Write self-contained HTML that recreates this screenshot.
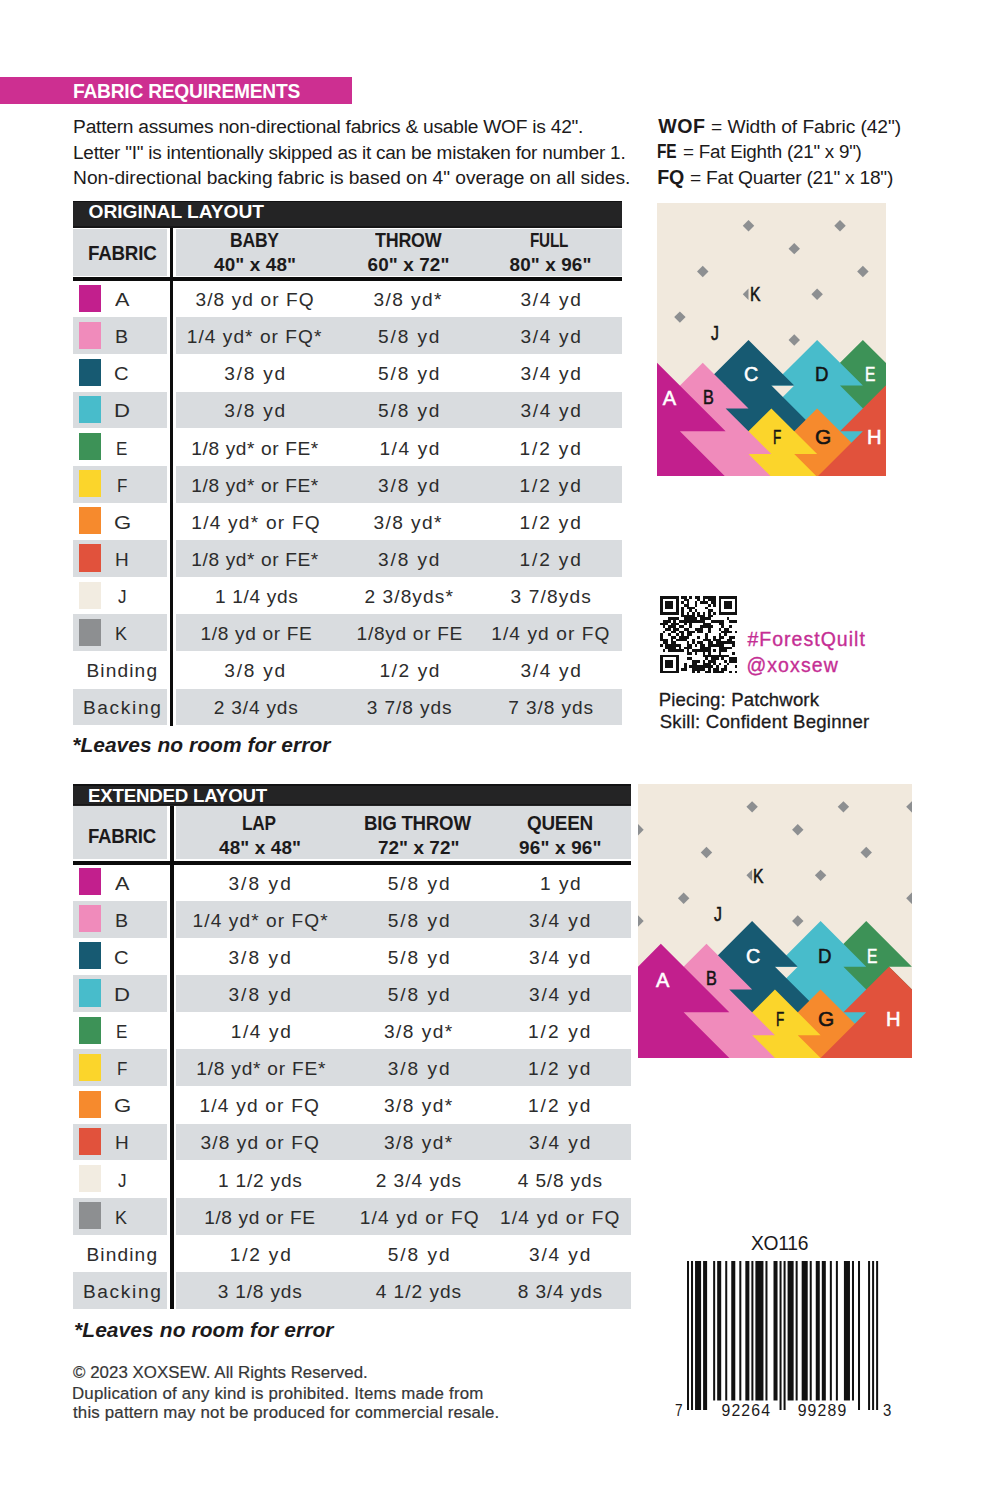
<!DOCTYPE html>
<html><head><meta charset="utf-8"><title>Fabric Requirements</title>
<style>
html,body{margin:0;padding:0;background:#fff}
body{width:986px;height:1500px;position:relative;overflow:hidden;font-family:"Liberation Sans",sans-serif}
#pg>div{position:absolute}
.t{position:absolute;white-space:pre;font-family:"Liberation Sans",sans-serif}
</style></head><body><div id="pg">
<div style="left:72.70px;top:200.70px;width:549.30px;height:27.30px;background:#242425"></div>
<div style="left:72.70px;top:200.70px;width:549.30px;height:1.60px;background:#121213"></div>
<div style="left:72.70px;top:226.40px;width:549.30px;height:1.60px;background:#161617"></div>
<div style="left:72.70px;top:228.80px;width:94.70px;height:47.00px;background:#d9dcdf"></div>
<div style="left:175.60px;top:228.80px;width:446.40px;height:47.00px;background:#d9dcdf"></div>
<div style="left:72.70px;top:277.10px;width:549.30px;height:4.30px;background:#0c0c0c"></div>
<div style="left:79.00px;top:284.50px;width:22.20px;height:27.20px;background:#c21f8d"></div>
<div style="left:72.70px;top:317.43px;width:94.70px;height:36.70px;background:#d9dcdf"></div>
<div style="left:175.60px;top:317.43px;width:446.40px;height:36.70px;background:#d9dcdf"></div>
<div style="left:79.00px;top:321.63px;width:22.20px;height:27.20px;background:#f08bbb"></div>
<div style="left:79.00px;top:358.76px;width:22.20px;height:27.20px;background:#175a72"></div>
<div style="left:72.70px;top:391.69px;width:94.70px;height:36.70px;background:#d9dcdf"></div>
<div style="left:175.60px;top:391.69px;width:446.40px;height:36.70px;background:#d9dcdf"></div>
<div style="left:79.00px;top:395.89px;width:22.20px;height:27.20px;background:#48bccb"></div>
<div style="left:79.00px;top:433.02px;width:22.20px;height:27.20px;background:#3d9257"></div>
<div style="left:72.70px;top:465.95px;width:94.70px;height:36.70px;background:#d9dcdf"></div>
<div style="left:175.60px;top:465.95px;width:446.40px;height:36.70px;background:#d9dcdf"></div>
<div style="left:79.00px;top:470.15px;width:22.20px;height:27.20px;background:#fbd52b"></div>
<div style="left:79.00px;top:507.28px;width:22.20px;height:27.20px;background:#f68a2d"></div>
<div style="left:72.70px;top:540.21px;width:94.70px;height:36.70px;background:#d9dcdf"></div>
<div style="left:175.60px;top:540.21px;width:446.40px;height:36.70px;background:#d9dcdf"></div>
<div style="left:79.00px;top:544.41px;width:22.20px;height:27.20px;background:#e1523c"></div>
<div style="left:79.00px;top:581.54px;width:22.20px;height:27.20px;background:#f2ece1"></div>
<div style="left:72.70px;top:614.47px;width:94.70px;height:36.70px;background:#d9dcdf"></div>
<div style="left:175.60px;top:614.47px;width:446.40px;height:36.70px;background:#d9dcdf"></div>
<div style="left:79.00px;top:618.67px;width:22.20px;height:27.20px;background:#8d8f91"></div>
<div style="left:72.70px;top:688.73px;width:94.70px;height:36.70px;background:#d9dcdf"></div>
<div style="left:175.60px;top:688.73px;width:446.40px;height:36.70px;background:#d9dcdf"></div>
<div style="left:169.60px;top:228.00px;width:3.90px;height:497.53px;background:#0c0c0c"></div>
<div style="left:72.70px;top:784.00px;width:557.90px;height:21.50px;background:#242425"></div>
<div style="left:72.70px;top:784.00px;width:557.90px;height:1.60px;background:#121213"></div>
<div style="left:72.70px;top:803.90px;width:557.90px;height:1.60px;background:#161617"></div>
<div style="left:72.70px;top:806.30px;width:94.80px;height:53.00px;background:#d9dcdf"></div>
<div style="left:175.70px;top:806.30px;width:454.90px;height:53.00px;background:#d9dcdf"></div>
<div style="left:72.70px;top:861.00px;width:557.90px;height:4.00px;background:#0c0c0c"></div>
<div style="left:79.00px;top:868.00px;width:22.20px;height:27.20px;background:#c21f8d"></div>
<div style="left:72.70px;top:900.93px;width:94.80px;height:36.70px;background:#d9dcdf"></div>
<div style="left:175.70px;top:900.93px;width:454.90px;height:36.70px;background:#d9dcdf"></div>
<div style="left:79.00px;top:905.13px;width:22.20px;height:27.20px;background:#f08bbb"></div>
<div style="left:79.00px;top:942.26px;width:22.20px;height:27.20px;background:#175a72"></div>
<div style="left:72.70px;top:975.19px;width:94.80px;height:36.70px;background:#d9dcdf"></div>
<div style="left:175.70px;top:975.19px;width:454.90px;height:36.70px;background:#d9dcdf"></div>
<div style="left:79.00px;top:979.39px;width:22.20px;height:27.20px;background:#48bccb"></div>
<div style="left:79.00px;top:1016.52px;width:22.20px;height:27.20px;background:#3d9257"></div>
<div style="left:72.70px;top:1049.45px;width:94.80px;height:36.70px;background:#d9dcdf"></div>
<div style="left:175.70px;top:1049.45px;width:454.90px;height:36.70px;background:#d9dcdf"></div>
<div style="left:79.00px;top:1053.65px;width:22.20px;height:27.20px;background:#fbd52b"></div>
<div style="left:79.00px;top:1090.78px;width:22.20px;height:27.20px;background:#f68a2d"></div>
<div style="left:72.70px;top:1123.71px;width:94.80px;height:36.70px;background:#d9dcdf"></div>
<div style="left:175.70px;top:1123.71px;width:454.90px;height:36.70px;background:#d9dcdf"></div>
<div style="left:79.00px;top:1127.91px;width:22.20px;height:27.20px;background:#e1523c"></div>
<div style="left:79.00px;top:1165.04px;width:22.20px;height:27.20px;background:#f2ece1"></div>
<div style="left:72.70px;top:1197.97px;width:94.80px;height:36.70px;background:#d9dcdf"></div>
<div style="left:175.70px;top:1197.97px;width:454.90px;height:36.70px;background:#d9dcdf"></div>
<div style="left:79.00px;top:1202.17px;width:22.20px;height:27.20px;background:#8d8f91"></div>
<div style="left:72.70px;top:1272.23px;width:94.80px;height:36.70px;background:#d9dcdf"></div>
<div style="left:175.70px;top:1272.23px;width:454.90px;height:36.70px;background:#d9dcdf"></div>
<div style="left:169.70px;top:805.50px;width:3.90px;height:503.53px;background:#0c0c0c"></div>
<div style="left:0.00px;top:76.80px;width:352.00px;height:27.00px;background:#cd2f91"></div>
<svg style="position:absolute;left:657px;top:202.5px" width="228.75" height="273.9" viewBox="1 0 10 12" preserveAspectRatio="none">
<rect x="-2" y="-2" width="20" height="20" fill="#f1e9dd"/>
<polygon points="5,0.75 5.25,1 5,1.25 4.75,1" fill="#8d8f91"/>
<polygon points="9,0.75 9.25,1 9,1.25 8.75,1" fill="#8d8f91"/>
<polygon points="12,0.75 12.25,1 12,1.25 11.75,1" fill="#8d8f91"/>
<polygon points="0,1.75 0.25,2 0,2.25 -0.25,2" fill="#8d8f91"/>
<polygon points="7,1.75 7.25,2 7,2.25 6.75,2" fill="#8d8f91"/>
<polygon points="3,2.75 3.25,3 3,3.25 2.75,3" fill="#8d8f91"/>
<polygon points="10,2.75 10.25,3 10,3.25 9.75,3" fill="#8d8f91"/>
<polygon points="8,3.75 8.25,4 8,4.25 7.75,4" fill="#8d8f91"/>
<polygon points="2,4.75 2.25,5 2,5.25 1.75,5" fill="#8d8f91"/>
<polygon points="12,4.75 12.25,5 12,5.25 11.75,5" fill="#8d8f91"/>
<polygon points="0,5.75 0.25,6 0,6.25 -0.25,6" fill="#8d8f91"/>
<polygon points="7,5.75 7.25,6 7,6.25 6.75,6" fill="#8d8f91"/>
<polygon points="5,3.75 5,4.25 4.75,4" fill="#8d8f91"/>
<polygon points="10,6 12,8 11,8 13,10 12,10 14,12 13,12 15,14 14,14 16,16 15,16 17,18 16,18 18,20 17,20 19,22 18,22 20,24 20,20 0,20 0,24 2,22 1,22 3,20 2,20 4,18 3,18 5,16 4,16 6,14 5,14 7,12 6,12 8,10 7,10 9,8 8,8" fill="#3d9257"/>
<polygon points="8,6 10,8 9,8 11,10 10,10 12,12 11,12 13,14 12,14 14,16 13,16 15,18 14,18 16,20 15,20 17,22 16,22 18,24 18,20 -2,20 -2,24 0,22 -1,22 1,20 0,20 2,18 1,18 3,16 2,16 4,14 3,14 5,12 4,12 6,10 5,10 7,8 6,8" fill="#48bccb"/>
<polygon points="5,6 7,8 6,8 8,10 7,10 9,12 8,12 10,14 9,14 11,16 10,16 12,18 11,18 13,20 12,20 14,22 13,22 15,24 15,20 -5,20 -5,24 -3,22 -4,22 -2,20 -3,20 -1,18 -2,18 0,16 -1,16 1,14 0,14 2,12 1,12 3,10 2,10 4,8 3,8" fill="#175a72"/>
<polygon points="8,9 10,11 9,11 11,13 10,13 12,15 11,15 13,17 12,17 14,19 13,19 15,21 14,21 16,23 15,23 17,25 16,25 18,27 18,20 -2,20 -2,27 0,25 -1,25 1,23 0,23 2,21 1,21 3,19 2,19 4,17 3,17 5,15 4,15 6,13 5,13 7,11 6,11" fill="#f68a2d"/>
<polygon points="11,8 13,10 12,10 14,12 13,12 15,14 14,14 16,16 15,16 17,18 16,18 18,20 17,20 19,22 18,22 20,24 19,24 21,26 21,20 1,20 1,26 3,24 2,24 4,22 3,22 5,20 4,20 6,18 5,18 7,16 6,16 8,14 7,14 9,12 8,12 10,10 9,10" fill="#e1523c"/>
<polygon points="6,9 8,11 7,11 9,13 8,13 10,15 9,15 11,17 10,17 12,19 11,19 13,21 12,21 14,23 13,23 15,25 14,25 16,27 16,20 -4,20 -4,27 -2,25 -3,25 -1,23 -2,23 0,21 -1,21 1,19 0,19 2,17 1,17 3,15 2,15 4,13 3,13 5,11 4,11" fill="#fbd52b"/>
<polygon points="3,7 5,9 4,9 6,11 5,11 7,13 6,13 8,15 7,15 9,17 8,17 10,19 9,19 11,21 10,21 12,23 11,23 13,25 13,20 -7,20 -7,25 -5,23 -6,23 -4,21 -5,21 -3,19 -4,19 -2,17 -3,17 -1,15 -2,15 0,13 -1,13 1,11 0,11 2,9 1,9" fill="#f08bbb"/>
<polygon points="1,7 4,10 2,10 4,12 3,12 5,14 5,20 -5,20 -5,13" fill="#c21f8d"/>
</svg>
<svg style="position:absolute;left:638px;top:783.7px" width="273.9" height="274.0" viewBox="0 0 12 12" preserveAspectRatio="none">
<rect x="-2" y="-2" width="20" height="20" fill="#f1e9dd"/>
<polygon points="5,0.75 5.25,1 5,1.25 4.75,1" fill="#8d8f91"/>
<polygon points="9,0.75 9.25,1 9,1.25 8.75,1" fill="#8d8f91"/>
<polygon points="12,0.75 12.25,1 12,1.25 11.75,1" fill="#8d8f91"/>
<polygon points="0,1.75 0.25,2 0,2.25 -0.25,2" fill="#8d8f91"/>
<polygon points="7,1.75 7.25,2 7,2.25 6.75,2" fill="#8d8f91"/>
<polygon points="3,2.75 3.25,3 3,3.25 2.75,3" fill="#8d8f91"/>
<polygon points="10,2.75 10.25,3 10,3.25 9.75,3" fill="#8d8f91"/>
<polygon points="8,3.75 8.25,4 8,4.25 7.75,4" fill="#8d8f91"/>
<polygon points="2,4.75 2.25,5 2,5.25 1.75,5" fill="#8d8f91"/>
<polygon points="12,4.75 12.25,5 12,5.25 11.75,5" fill="#8d8f91"/>
<polygon points="0,5.75 0.25,6 0,6.25 -0.25,6" fill="#8d8f91"/>
<polygon points="7,5.75 7.25,6 7,6.25 6.75,6" fill="#8d8f91"/>
<polygon points="5,3.75 5,4.25 4.75,4" fill="#8d8f91"/>
<polygon points="10,6 12,8 11,8 13,10 12,10 14,12 13,12 15,14 14,14 16,16 15,16 17,18 16,18 18,20 17,20 19,22 18,22 20,24 20,20 0,20 0,24 2,22 1,22 3,20 2,20 4,18 3,18 5,16 4,16 6,14 5,14 7,12 6,12 8,10 7,10 9,8 8,8" fill="#3d9257"/>
<polygon points="8,6 10,8 9,8 11,10 10,10 12,12 11,12 13,14 12,14 14,16 13,16 15,18 14,18 16,20 15,20 17,22 16,22 18,24 18,20 -2,20 -2,24 0,22 -1,22 1,20 0,20 2,18 1,18 3,16 2,16 4,14 3,14 5,12 4,12 6,10 5,10 7,8 6,8" fill="#48bccb"/>
<polygon points="5,6 7,8 6,8 8,10 7,10 9,12 8,12 10,14 9,14 11,16 10,16 12,18 11,18 13,20 12,20 14,22 13,22 15,24 15,20 -5,20 -5,24 -3,22 -4,22 -2,20 -3,20 -1,18 -2,18 0,16 -1,16 1,14 0,14 2,12 1,12 3,10 2,10 4,8 3,8" fill="#175a72"/>
<polygon points="8,9 10,11 9,11 11,13 10,13 12,15 11,15 13,17 12,17 14,19 13,19 15,21 14,21 16,23 15,23 17,25 16,25 18,27 18,20 -2,20 -2,27 0,25 -1,25 1,23 0,23 2,21 1,21 3,19 2,19 4,17 3,17 5,15 4,15 6,13 5,13 7,11 6,11" fill="#f68a2d"/>
<polygon points="11,8 13,10 12,10 14,12 13,12 15,14 14,14 16,16 15,16 17,18 16,18 18,20 17,20 19,22 18,22 20,24 19,24 21,26 21,20 1,20 1,26 3,24 2,24 4,22 3,22 5,20 4,20 6,18 5,18 7,16 6,16 8,14 7,14 9,12 8,12 10,10 9,10" fill="#e1523c"/>
<polygon points="6,9 8,11 7,11 9,13 8,13 10,15 9,15 11,17 10,17 12,19 11,19 13,21 12,21 14,23 13,23 15,25 14,25 16,27 16,20 -4,20 -4,27 -2,25 -3,25 -1,23 -2,23 0,21 -1,21 1,19 0,19 2,17 1,17 3,15 2,15 4,13 3,13 5,11 4,11" fill="#fbd52b"/>
<polygon points="3,7 5,9 4,9 6,11 5,11 7,13 6,13 8,15 7,15 9,17 8,17 10,19 9,19 11,21 10,21 12,23 11,23 13,25 13,20 -7,20 -7,25 -5,23 -6,23 -4,21 -5,21 -3,19 -4,19 -2,17 -3,17 -1,15 -2,15 0,13 -1,13 1,11 0,11 2,9 1,9" fill="#f08bbb"/>
<polygon points="1,7 4,10 2,10 4,12 3,12 5,14 5,20 -5,20 -5,13" fill="#c21f8d"/>
</svg>
<svg style="position:absolute;left:659.7px;top:596px" width="77.2" height="77.2" viewBox="0 0 29 29" shape-rendering="crispEdges"><path fill="#111" d="M0 0h7v1h-7zM8 0h2v1h-2zM11 0h1v1h-1zM13 0h2v1h-2zM16 0h5v1h-5zM22 0h7v1h-7zM0 1h1v1h-1zM6 1h1v1h-1zM9 1h2v1h-2zM14 1h1v1h-1zM16 1h1v1h-1zM18 1h3v1h-3zM22 1h1v1h-1zM28 1h1v1h-1zM0 2h1v1h-1zM2 2h3v1h-3zM6 2h1v1h-1zM8 2h1v1h-1zM10 2h1v1h-1zM13 2h1v1h-1zM15 2h3v1h-3zM19 2h2v1h-2zM22 2h1v1h-1zM24 2h3v1h-3zM28 2h1v1h-1zM0 3h1v1h-1zM2 3h3v1h-3zM6 3h1v1h-1zM9 3h2v1h-2zM13 3h1v1h-1zM18 3h1v1h-1zM20 3h1v1h-1zM22 3h1v1h-1zM24 3h3v1h-3zM28 3h1v1h-1zM0 4h1v1h-1zM2 4h3v1h-3zM6 4h1v1h-1zM8 4h1v1h-1zM10 4h3v1h-3zM17 4h1v1h-1zM22 4h1v1h-1zM24 4h3v1h-3zM28 4h1v1h-1zM0 5h1v1h-1zM6 5h1v1h-1zM8 5h1v1h-1zM11 5h1v1h-1zM13 5h1v1h-1zM18 5h2v1h-2zM22 5h1v1h-1zM28 5h1v1h-1zM0 6h7v1h-7zM8 6h1v1h-1zM10 6h1v1h-1zM12 6h1v1h-1zM14 6h1v1h-1zM16 6h1v1h-1zM18 6h1v1h-1zM20 6h1v1h-1zM22 6h7v1h-7zM8 7h5v1h-5zM14 7h3v1h-3zM18 7h2v1h-2zM3 8h4v1h-4zM9 8h5v1h-5zM15 8h4v1h-4zM25 8h1v1h-1zM1 9h3v1h-3zM5 9h1v1h-1zM7 9h10v1h-10zM19 9h5v1h-5zM26 9h3v1h-3zM0 10h3v1h-3zM4 10h3v1h-3zM9 10h1v1h-1zM11 10h1v1h-1zM16 10h3v1h-3zM22 10h2v1h-2zM1 11h1v1h-1zM3 11h3v1h-3zM7 11h2v1h-2zM11 11h1v1h-1zM15 11h5v1h-5zM23 11h1v1h-1zM26 11h1v1h-1zM2 12h2v1h-2zM5 12h2v1h-2zM9 12h2v1h-2zM13 12h3v1h-3zM18 12h1v1h-1zM22 12h1v1h-1zM24 12h2v1h-2zM1 13h1v1h-1zM4 13h2v1h-2zM7 13h2v1h-2zM10 13h3v1h-3zM14 13h2v1h-2zM18 13h1v1h-1zM23 13h4v1h-4zM28 13h1v1h-1zM0 14h1v1h-1zM3 14h1v1h-1zM6 14h1v1h-1zM8 14h1v1h-1zM10 14h2v1h-2zM17 14h1v1h-1zM22 14h1v1h-1zM24 14h1v1h-1zM0 15h1v1h-1zM4 15h2v1h-2zM7 15h4v1h-4zM14 15h1v1h-1zM17 15h1v1h-1zM20 15h1v1h-1zM22 15h2v1h-2zM26 15h2v1h-2zM0 16h3v1h-3zM4 16h1v1h-1zM6 16h4v1h-4zM12 16h1v1h-1zM16 16h3v1h-3zM20 16h3v1h-3zM25 16h2v1h-2zM1 17h2v1h-2zM4 17h2v1h-2zM10 17h1v1h-1zM12 17h1v1h-1zM14 17h2v1h-2zM18 17h2v1h-2zM21 17h7v1h-7zM0 18h1v1h-1zM2 18h6v1h-6zM10 18h2v1h-2zM13 18h1v1h-1zM15 18h2v1h-2zM18 18h6v1h-6zM27 18h1v1h-1zM2 19h4v1h-4zM7 19h1v1h-1zM9 19h3v1h-3zM15 19h4v1h-4zM22 19h5v1h-5zM1 20h1v1h-1zM3 20h6v1h-6zM10 20h1v1h-1zM12 20h7v1h-7zM20 20h1v1h-1zM22 20h3v1h-3zM10 21h2v1h-2zM13 21h1v1h-1zM16 21h1v1h-1zM18 21h1v1h-1zM22 21h1v1h-1zM27 21h1v1h-1zM0 22h7v1h-7zM16 22h10v1h-10zM0 23h1v1h-1zM6 23h1v1h-1zM10 23h2v1h-2zM17 23h1v1h-1zM19 23h3v1h-3zM23 23h1v1h-1zM26 23h3v1h-3zM0 24h1v1h-1zM2 24h3v1h-3zM6 24h1v1h-1zM12 24h3v1h-3zM16 24h1v1h-1zM18 24h3v1h-3zM24 24h1v1h-1zM26 24h3v1h-3zM0 25h1v1h-1zM2 25h3v1h-3zM6 25h1v1h-1zM9 25h1v1h-1zM12 25h2v1h-2zM16 25h3v1h-3zM20 25h1v1h-1zM22 25h1v1h-1zM25 25h1v1h-1zM0 26h1v1h-1zM2 26h3v1h-3zM6 26h1v1h-1zM9 26h1v1h-1zM11 26h9v1h-9zM21 26h1v1h-1zM24 26h1v1h-1zM28 26h1v1h-1zM0 27h1v1h-1zM6 27h1v1h-1zM8 27h2v1h-2zM12 27h5v1h-5zM18 27h1v1h-1zM20 27h2v1h-2zM23 27h2v1h-2zM0 28h7v1h-7zM12 28h1v1h-1zM14 28h1v1h-1zM17 28h2v1h-2zM20 28h4v1h-4zM26 28h1v1h-1zM28 28h1v1h-1z"/></svg>
<svg style="position:absolute;left:687.4px;top:1261px" width="191.14" height="149.20" viewBox="0 0 95 149.200" preserveAspectRatio="none"><g fill="#111"><rect x="0" y="0" width="1" height="149.20"/><rect x="2" y="0" width="1" height="149.20"/><rect x="4" y="0" width="3" height="149.20"/><rect x="8" y="0" width="2" height="149.20"/><rect x="13" y="0" width="1" height="139.50"/><rect x="15" y="0" width="2" height="139.50"/><rect x="19" y="0" width="1" height="139.50"/><rect x="22" y="0" width="2" height="139.50"/><rect x="26" y="0" width="1" height="139.50"/><rect x="29" y="0" width="2" height="139.50"/><rect x="32" y="0" width="1" height="139.50"/><rect x="34" y="0" width="4" height="139.50"/><rect x="39" y="0" width="1" height="139.50"/><rect x="43" y="0" width="2" height="139.50"/><rect x="46" y="0" width="1" height="149.20"/><rect x="48" y="0" width="1" height="149.20"/><rect x="50" y="0" width="3" height="139.50"/><rect x="54" y="0" width="1" height="139.50"/><rect x="57" y="0" width="3" height="139.50"/><rect x="61" y="0" width="1" height="139.50"/><rect x="64" y="0" width="2" height="139.50"/><rect x="67" y="0" width="2" height="139.50"/><rect x="71" y="0" width="1" height="139.50"/><rect x="74" y="0" width="1" height="139.50"/><rect x="78" y="0" width="3" height="139.50"/><rect x="82" y="0" width="1" height="139.50"/><rect x="85" y="0" width="1" height="149.20"/><rect x="90" y="0" width="1" height="149.20"/><rect x="92" y="0" width="1" height="149.20"/><rect x="94" y="0" width="1" height="149.20"/></g></svg>
<div class="t" id="t0" style="left:72.79px;top:78.40px;font-size:21.08px;line-height:25px;letter-spacing:-0.250px;color:#ffffff;font-weight:bold;transform:scaleX(0.9104);transform-origin:0 0">FABRIC REQUIREMENTS</div>
<div class="t" id="t1" style="left:73.10px;top:115.30px;font-size:19.19px;line-height:23px;letter-spacing:-0.250px;color:#1c1a1b">Pattern assumes non-directional fabrics &amp; usable WOF is 42".</div>
<div class="t" id="t2" style="left:73.11px;top:140.90px;font-size:19.19px;line-height:23px;letter-spacing:-0.250px;color:#1c1a1b;transform:scaleX(0.9902);transform-origin:0 0">Letter "I" is intentionally skipped as it can be mistaken for number 1.</div>
<div class="t" id="t3" style="left:73.10px;top:166.20px;font-size:19.19px;line-height:23px;letter-spacing:-0.048px;color:#1c1a1b">Non-directional backing fabric is based on 4" overage on all sides.</div>
<div class="t" id="t4" style="left:658.20px;top:113.70px;font-size:19.62px;line-height:24px;letter-spacing:0.569px;color:#1c1a1b;font-weight:bold">WOF</div>
<div class="t" id="t5" style="left:711.00px;top:114.70px;font-size:19.19px;line-height:23px;letter-spacing:-0.079px;color:#1c1a1b">= Width of Fabric (42")</div>
<div class="t" id="t6" style="left:657.40px;top:140.30px;font-size:19.48px;line-height:23px;letter-spacing:-0.250px;color:#1c1a1b;font-weight:bold;transform:scaleX(0.7952);transform-origin:0 0">FE</div>
<div class="t" id="t7" style="left:683.00px;top:140.30px;font-size:19.19px;line-height:23px;letter-spacing:-0.250px;color:#1c1a1b;transform:scaleX(0.9802);transform-origin:0 0">= Fat Eighth (21" x 9")</div>
<div class="t" id="t8" style="left:657.20px;top:164.90px;font-size:19.62px;line-height:24px;letter-spacing:-0.178px;color:#1c1a1b;font-weight:bold">FQ</div>
<div class="t" id="t9" style="left:690.00px;top:165.90px;font-size:19.19px;line-height:23px;letter-spacing:-0.250px;color:#1c1a1b">= Fat Quarter (21" x 18")</div>
<div class="t" id="t10" style="left:88.50px;top:200.10px;font-size:19.19px;line-height:23px;letter-spacing:-0.023px;color:#ffffff;font-weight:bold">ORIGINAL LAYOUT</div>
<div class="t" id="t11" style="left:87.55px;top:240.90px;font-size:19.77px;line-height:24px;letter-spacing:-0.250px;color:#1c1a1b;font-weight:bold;transform:scaleX(0.9501);transform-origin:0 0">FABRIC</div>
<div class="t" id="t12" style="left:229.71px;top:227.90px;font-size:19.77px;line-height:24px;letter-spacing:-0.250px;color:#1c1a1b;font-weight:bold;transform:scaleX(0.8877);transform-origin:0 0">BABY</div>
<div class="t" id="t13" style="left:214.10px;top:253.30px;font-size:18.9px;line-height:23px;letter-spacing:0.127px;color:#1c1a1b;font-weight:bold">40" x 48"</div>
<div class="t" id="t14" style="left:374.50px;top:227.90px;font-size:19.77px;line-height:24px;letter-spacing:-0.250px;color:#1c1a1b;font-weight:bold;transform:scaleX(0.9055);transform-origin:0 0">THROW</div>
<div class="t" id="t15" style="left:367.50px;top:253.30px;font-size:18.9px;line-height:23px;letter-spacing:0.127px;color:#1c1a1b;font-weight:bold">60" x 72"</div>
<div class="t" id="t16" style="left:530.48px;top:227.90px;font-size:19.77px;line-height:24px;letter-spacing:-0.250px;color:#1c1a1b;font-weight:bold;transform:scaleX(0.7705);transform-origin:0 0">FULL</div>
<div class="t" id="t17" style="left:509.50px;top:253.30px;font-size:18.9px;line-height:23px;letter-spacing:0.127px;color:#1c1a1b;font-weight:bold">80" x 96"</div>
<div class="t" id="t18" style="left:115.00px;top:288.00px;font-size:19.11px;line-height:23px;letter-spacing:0.000px;color:#2c2c2c;transform:scaleX(1.1308);transform-origin:0 0">A</div>
<div class="t" id="t19" style="left:195.50px;top:288.00px;font-size:19.11px;line-height:23px;letter-spacing:1.087px;color:#2c2c2c">3/8 yd or FQ</div>
<div class="t" id="t20" style="left:373.50px;top:288.00px;font-size:19.11px;line-height:23px;letter-spacing:1.407px;color:#2c2c2c">3/8 yd*</div>
<div class="t" id="t21" style="left:520.50px;top:288.00px;font-size:19.11px;line-height:23px;letter-spacing:1.674px;color:#2c2c2c">3/4 yd</div>
<div class="t" id="t22" style="left:115.37px;top:325.13px;font-size:19.11px;line-height:23px;letter-spacing:0.000px;color:#2c2c2c;transform:scaleX(1.0273);transform-origin:0 0">B</div>
<div class="t" id="t23" style="left:186.80px;top:325.13px;font-size:19.11px;line-height:23px;letter-spacing:1.043px;color:#2c2c2c">1/4 yd* or FQ*</div>
<div class="t" id="t24" style="left:378.10px;top:325.13px;font-size:19.11px;line-height:23px;letter-spacing:1.854px;color:#2c2c2c">5/8 yd</div>
<div class="t" id="t25" style="left:520.50px;top:325.13px;font-size:19.11px;line-height:23px;letter-spacing:1.674px;color:#2c2c2c">3/4 yd</div>
<div class="t" id="t26" style="left:114.40px;top:362.26px;font-size:19.11px;line-height:23px;letter-spacing:0.000px;color:#2c2c2c;transform:scaleX(1.0571);transform-origin:0 0">C</div>
<div class="t" id="t27" style="left:224.30px;top:362.26px;font-size:19.11px;line-height:23px;letter-spacing:1.754px;color:#2c2c2c">3/8 yd</div>
<div class="t" id="t28" style="left:378.10px;top:362.26px;font-size:19.11px;line-height:23px;letter-spacing:1.854px;color:#2c2c2c">5/8 yd</div>
<div class="t" id="t29" style="left:520.50px;top:362.26px;font-size:19.11px;line-height:23px;letter-spacing:1.674px;color:#2c2c2c">3/4 yd</div>
<div class="t" id="t30" style="left:113.84px;top:399.39px;font-size:19.11px;line-height:23px;letter-spacing:0.000px;color:#2c2c2c;transform:scaleX(1.1583);transform-origin:0 0">D</div>
<div class="t" id="t31" style="left:224.30px;top:399.39px;font-size:19.11px;line-height:23px;letter-spacing:1.754px;color:#2c2c2c">3/8 yd</div>
<div class="t" id="t32" style="left:378.10px;top:399.39px;font-size:19.11px;line-height:23px;letter-spacing:1.854px;color:#2c2c2c">5/8 yd</div>
<div class="t" id="t33" style="left:520.50px;top:399.39px;font-size:19.11px;line-height:23px;letter-spacing:1.674px;color:#2c2c2c">3/4 yd</div>
<div class="t" id="t34" style="left:116.11px;top:436.52px;font-size:19.11px;line-height:23px;letter-spacing:0.000px;color:#2c2c2c;transform:scaleX(0.8909);transform-origin:0 0">E</div>
<div class="t" id="t35" style="left:191.30px;top:436.52px;font-size:19.11px;line-height:23px;letter-spacing:0.614px;color:#2c2c2c">1/8 yd* or FE*</div>
<div class="t" id="t36" style="left:379.40px;top:436.52px;font-size:19.11px;line-height:23px;letter-spacing:1.594px;color:#2c2c2c">1/4 yd</div>
<div class="t" id="t37" style="left:519.50px;top:436.52px;font-size:19.11px;line-height:23px;letter-spacing:1.874px;color:#2c2c2c">1/2 yd</div>
<div class="t" id="t38" style="left:117.01px;top:473.65px;font-size:19.11px;line-height:23px;letter-spacing:0.000px;color:#2c2c2c;transform:scaleX(0.8900);transform-origin:0 0">F</div>
<div class="t" id="t39" style="left:191.30px;top:473.65px;font-size:19.11px;line-height:23px;letter-spacing:0.614px;color:#2c2c2c">1/8 yd* or FE*</div>
<div class="t" id="t40" style="left:378.10px;top:473.65px;font-size:19.11px;line-height:23px;letter-spacing:1.854px;color:#2c2c2c">3/8 yd</div>
<div class="t" id="t41" style="left:519.50px;top:473.65px;font-size:19.11px;line-height:23px;letter-spacing:1.874px;color:#2c2c2c">1/2 yd</div>
<div class="t" id="t42" style="left:113.50px;top:510.78px;font-size:19.11px;line-height:23px;letter-spacing:0.000px;color:#2c2c2c;transform:scaleX(1.1571);transform-origin:0 0">G</div>
<div class="t" id="t43" style="left:191.30px;top:510.78px;font-size:19.11px;line-height:23px;letter-spacing:1.227px;color:#2c2c2c">1/4 yd* or FQ</div>
<div class="t" id="t44" style="left:373.50px;top:510.78px;font-size:19.11px;line-height:23px;letter-spacing:1.407px;color:#2c2c2c">3/8 yd*</div>
<div class="t" id="t45" style="left:519.50px;top:510.78px;font-size:19.11px;line-height:23px;letter-spacing:1.874px;color:#2c2c2c">1/2 yd</div>
<div class="t" id="t46" style="left:115.41px;top:547.91px;font-size:19.11px;line-height:23px;letter-spacing:0.000px;color:#2c2c2c;transform:scaleX(0.9917);transform-origin:0 0">H</div>
<div class="t" id="t47" style="left:191.30px;top:547.91px;font-size:19.11px;line-height:23px;letter-spacing:0.614px;color:#2c2c2c">1/8 yd* or FE*</div>
<div class="t" id="t48" style="left:378.10px;top:547.91px;font-size:19.11px;line-height:23px;letter-spacing:1.854px;color:#2c2c2c">3/8 yd</div>
<div class="t" id="t49" style="left:519.50px;top:547.91px;font-size:19.11px;line-height:23px;letter-spacing:1.874px;color:#2c2c2c">1/2 yd</div>
<div class="t" id="t50" style="left:117.90px;top:585.04px;font-size:19.11px;line-height:23px;letter-spacing:0.000px;color:#2c2c2c;transform:scaleX(0.8889);transform-origin:0 0">J</div>
<div class="t" id="t51" style="left:215.10px;top:585.04px;font-size:19.11px;line-height:23px;letter-spacing:0.651px;color:#2c2c2c">1 1/4 yds</div>
<div class="t" id="t52" style="left:364.40px;top:585.04px;font-size:19.11px;line-height:23px;letter-spacing:1.095px;color:#2c2c2c">2 3/8yds*</div>
<div class="t" id="t53" style="left:510.50px;top:585.04px;font-size:19.11px;line-height:23px;letter-spacing:1.159px;color:#2c2c2c">3 7/8yds</div>
<div class="t" id="t54" style="left:115.46px;top:622.17px;font-size:19.11px;line-height:23px;letter-spacing:0.000px;color:#2c2c2c;transform:scaleX(0.9417);transform-origin:0 0">K</div>
<div class="t" id="t55" style="left:200.50px;top:622.17px;font-size:19.11px;line-height:23px;letter-spacing:0.651px;color:#2c2c2c">1/8 yd or FE</div>
<div class="t" id="t56" style="left:356.60px;top:622.17px;font-size:19.11px;line-height:23px;letter-spacing:0.697px;color:#2c2c2c">1/8yd or FE</div>
<div class="t" id="t57" style="left:491.20px;top:622.17px;font-size:19.11px;line-height:23px;letter-spacing:1.096px;color:#2c2c2c">1/4 yd or FQ</div>
<div class="t" id="t58" style="left:86.40px;top:659.30px;font-size:19.11px;line-height:23px;letter-spacing:1.147px;color:#2c2c2c">Binding</div>
<div class="t" id="t59" style="left:224.30px;top:659.30px;font-size:19.11px;line-height:23px;letter-spacing:1.754px;color:#2c2c2c">3/8 yd</div>
<div class="t" id="t60" style="left:379.40px;top:659.30px;font-size:19.11px;line-height:23px;letter-spacing:1.594px;color:#2c2c2c">1/2 yd</div>
<div class="t" id="t61" style="left:520.50px;top:659.30px;font-size:19.11px;line-height:23px;letter-spacing:1.674px;color:#2c2c2c">3/4 yd</div>
<div class="t" id="t62" style="left:82.90px;top:696.43px;font-size:19.11px;line-height:23px;letter-spacing:1.657px;color:#2c2c2c">Backing</div>
<div class="t" id="t63" style="left:213.80px;top:696.43px;font-size:19.11px;line-height:23px;letter-spacing:0.813px;color:#2c2c2c">2 3/4 yds</div>
<div class="t" id="t64" style="left:366.70px;top:696.43px;font-size:19.11px;line-height:23px;letter-spacing:0.926px;color:#2c2c2c">3 7/8 yds</div>
<div class="t" id="t65" style="left:508.20px;top:696.43px;font-size:19.11px;line-height:23px;letter-spacing:0.926px;color:#2c2c2c">7 3/8 yds</div>
<div class="t" id="t66" style="left:72.20px;top:731.80px;font-size:20.93px;line-height:25px;letter-spacing:0.054px;color:#1c1a1b;font-weight:bold;font-style:italic">*Leaves no room for error</div>
<div class="t" id="t67" style="left:87.52px;top:783.60px;font-size:19.19px;line-height:23px;letter-spacing:-0.250px;color:#ffffff;font-weight:bold;transform:scaleX(0.9770);transform-origin:0 0">EXTENDED LAYOUT</div>
<div class="t" id="t68" style="left:87.56px;top:823.50px;font-size:19.77px;line-height:24px;letter-spacing:-0.250px;color:#1c1a1b;font-weight:bold;transform:scaleX(0.9416);transform-origin:0 0">FABRIC</div>
<div class="t" id="t69" style="left:242.23px;top:811.40px;font-size:19.77px;line-height:24px;letter-spacing:-0.250px;color:#1c1a1b;font-weight:bold;transform:scaleX(0.8719);transform-origin:0 0">LAP</div>
<div class="t" id="t70" style="left:219.10px;top:836.20px;font-size:18.9px;line-height:23px;letter-spacing:0.127px;color:#1c1a1b;font-weight:bold">48" x 48"</div>
<div class="t" id="t71" style="left:364.06px;top:811.40px;font-size:19.77px;line-height:24px;letter-spacing:-0.250px;color:#1c1a1b;font-weight:bold;transform:scaleX(0.9447);transform-origin:0 0">BIG THROW</div>
<div class="t" id="t72" style="left:377.90px;top:836.20px;font-size:18.9px;line-height:23px;letter-spacing:0.077px;color:#1c1a1b;font-weight:bold">72" x 72"</div>
<div class="t" id="t73" style="left:527.30px;top:811.40px;font-size:19.77px;line-height:24px;letter-spacing:-0.250px;color:#1c1a1b;font-weight:bold;transform:scaleX(0.9557);transform-origin:0 0">QUEEN</div>
<div class="t" id="t74" style="left:519.05px;top:836.20px;font-size:18.9px;line-height:23px;letter-spacing:0.190px;color:#1c1a1b;font-weight:bold">96" x 96"</div>
<div class="t" id="t75" style="left:115.00px;top:871.50px;font-size:19.11px;line-height:23px;letter-spacing:0.000px;color:#2c2c2c;transform:scaleX(1.1308);transform-origin:0 0">A</div>
<div class="t" id="t76" style="left:228.40px;top:871.50px;font-size:19.11px;line-height:23px;letter-spacing:2.074px;color:#2c2c2c">3/8 yd</div>
<div class="t" id="t77" style="left:387.70px;top:871.50px;font-size:19.11px;line-height:23px;letter-spacing:1.974px;color:#2c2c2c">5/8 yd</div>
<div class="t" id="t78" style="left:540.00px;top:871.50px;font-size:19.11px;line-height:23px;letter-spacing:1.503px;color:#2c2c2c">1 yd</div>
<div class="t" id="t79" style="left:115.37px;top:908.63px;font-size:19.11px;line-height:23px;letter-spacing:0.000px;color:#2c2c2c;transform:scaleX(1.0273);transform-origin:0 0">B</div>
<div class="t" id="t80" style="left:192.60px;top:908.63px;font-size:19.11px;line-height:23px;letter-spacing:1.082px;color:#2c2c2c">1/4 yd* or FQ*</div>
<div class="t" id="t81" style="left:387.70px;top:908.63px;font-size:19.11px;line-height:23px;letter-spacing:1.974px;color:#2c2c2c">5/8 yd</div>
<div class="t" id="t82" style="left:528.90px;top:908.63px;font-size:19.11px;line-height:23px;letter-spacing:1.894px;color:#2c2c2c">3/4 yd</div>
<div class="t" id="t83" style="left:114.40px;top:945.76px;font-size:19.11px;line-height:23px;letter-spacing:0.000px;color:#2c2c2c;transform:scaleX(1.0571);transform-origin:0 0">C</div>
<div class="t" id="t84" style="left:228.40px;top:945.76px;font-size:19.11px;line-height:23px;letter-spacing:2.074px;color:#2c2c2c">3/8 yd</div>
<div class="t" id="t85" style="left:387.70px;top:945.76px;font-size:19.11px;line-height:23px;letter-spacing:1.974px;color:#2c2c2c">5/8 yd</div>
<div class="t" id="t86" style="left:528.90px;top:945.76px;font-size:19.11px;line-height:23px;letter-spacing:1.894px;color:#2c2c2c">3/4 yd</div>
<div class="t" id="t87" style="left:113.84px;top:982.89px;font-size:19.11px;line-height:23px;letter-spacing:0.000px;color:#2c2c2c;transform:scaleX(1.1583);transform-origin:0 0">D</div>
<div class="t" id="t88" style="left:228.40px;top:982.89px;font-size:19.11px;line-height:23px;letter-spacing:2.074px;color:#2c2c2c">3/8 yd</div>
<div class="t" id="t89" style="left:387.70px;top:982.89px;font-size:19.11px;line-height:23px;letter-spacing:1.974px;color:#2c2c2c">5/8 yd</div>
<div class="t" id="t90" style="left:528.90px;top:982.89px;font-size:19.11px;line-height:23px;letter-spacing:1.894px;color:#2c2c2c">3/4 yd</div>
<div class="t" id="t91" style="left:116.11px;top:1020.02px;font-size:19.11px;line-height:23px;letter-spacing:0.000px;color:#2c2c2c;transform:scaleX(0.8909);transform-origin:0 0">E</div>
<div class="t" id="t92" style="left:230.70px;top:1020.02px;font-size:19.11px;line-height:23px;letter-spacing:1.614px;color:#2c2c2c">1/4 yd</div>
<div class="t" id="t93" style="left:384.00px;top:1020.02px;font-size:19.11px;line-height:23px;letter-spacing:1.457px;color:#2c2c2c">3/8 yd*</div>
<div class="t" id="t94" style="left:527.90px;top:1020.02px;font-size:19.11px;line-height:23px;letter-spacing:2.094px;color:#2c2c2c">1/2 yd</div>
<div class="t" id="t95" style="left:117.01px;top:1057.15px;font-size:19.11px;line-height:23px;letter-spacing:0.000px;color:#2c2c2c;transform:scaleX(0.8900);transform-origin:0 0">F</div>
<div class="t" id="t96" style="left:196.30px;top:1057.15px;font-size:19.11px;line-height:23px;letter-spacing:0.783px;color:#2c2c2c">1/8 yd* or FE*</div>
<div class="t" id="t97" style="left:387.70px;top:1057.15px;font-size:19.11px;line-height:23px;letter-spacing:1.974px;color:#2c2c2c">3/8 yd</div>
<div class="t" id="t98" style="left:527.90px;top:1057.15px;font-size:19.11px;line-height:23px;letter-spacing:2.094px;color:#2c2c2c">1/2 yd</div>
<div class="t" id="t99" style="left:113.50px;top:1094.28px;font-size:19.11px;line-height:23px;letter-spacing:0.000px;color:#2c2c2c;transform:scaleX(1.1571);transform-origin:0 0">G</div>
<div class="t" id="t100" style="left:199.50px;top:1094.28px;font-size:19.11px;line-height:23px;letter-spacing:1.196px;color:#2c2c2c">1/4 yd or FQ</div>
<div class="t" id="t101" style="left:384.00px;top:1094.28px;font-size:19.11px;line-height:23px;letter-spacing:1.457px;color:#2c2c2c">3/8 yd*</div>
<div class="t" id="t102" style="left:527.90px;top:1094.28px;font-size:19.11px;line-height:23px;letter-spacing:2.094px;color:#2c2c2c">1/2 yd</div>
<div class="t" id="t103" style="left:115.41px;top:1131.41px;font-size:19.11px;line-height:23px;letter-spacing:0.000px;color:#2c2c2c;transform:scaleX(0.9917);transform-origin:0 0">H</div>
<div class="t" id="t104" style="left:200.50px;top:1131.41px;font-size:19.11px;line-height:23px;letter-spacing:1.106px;color:#2c2c2c">3/8 yd or FQ</div>
<div class="t" id="t105" style="left:384.00px;top:1131.41px;font-size:19.11px;line-height:23px;letter-spacing:1.457px;color:#2c2c2c">3/8 yd*</div>
<div class="t" id="t106" style="left:528.90px;top:1131.41px;font-size:19.11px;line-height:23px;letter-spacing:1.894px;color:#2c2c2c">3/4 yd</div>
<div class="t" id="t107" style="left:117.90px;top:1168.54px;font-size:19.11px;line-height:23px;letter-spacing:0.000px;color:#2c2c2c;transform:scaleX(0.8889);transform-origin:0 0">J</div>
<div class="t" id="t108" style="left:218.10px;top:1168.54px;font-size:19.11px;line-height:23px;letter-spacing:0.776px;color:#2c2c2c">1 1/2 yds</div>
<div class="t" id="t109" style="left:375.70px;top:1168.54px;font-size:19.11px;line-height:23px;letter-spacing:0.988px;color:#2c2c2c">2 3/4 yds</div>
<div class="t" id="t110" style="left:517.80px;top:1168.54px;font-size:19.11px;line-height:23px;letter-spacing:0.826px;color:#2c2c2c">4 5/8 yds</div>
<div class="t" id="t111" style="left:115.46px;top:1205.67px;font-size:19.11px;line-height:23px;letter-spacing:0.000px;color:#2c2c2c;transform:scaleX(0.9417);transform-origin:0 0">K</div>
<div class="t" id="t112" style="left:204.20px;top:1205.67px;font-size:19.11px;line-height:23px;letter-spacing:0.615px;color:#2c2c2c">1/8 yd or FE</div>
<div class="t" id="t113" style="left:359.80px;top:1205.67px;font-size:19.11px;line-height:23px;letter-spacing:1.151px;color:#2c2c2c">1/4 yd or FQ</div>
<div class="t" id="t114" style="left:500.00px;top:1205.67px;font-size:19.11px;line-height:23px;letter-spacing:1.206px;color:#2c2c2c">1/4 yd or FQ</div>
<div class="t" id="t115" style="left:86.40px;top:1242.80px;font-size:19.11px;line-height:23px;letter-spacing:1.147px;color:#2c2c2c">Binding</div>
<div class="t" id="t116" style="left:229.70px;top:1242.80px;font-size:19.11px;line-height:23px;letter-spacing:1.814px;color:#2c2c2c">1/2 yd</div>
<div class="t" id="t117" style="left:387.70px;top:1242.80px;font-size:19.11px;line-height:23px;letter-spacing:1.974px;color:#2c2c2c">5/8 yd</div>
<div class="t" id="t118" style="left:528.90px;top:1242.80px;font-size:19.11px;line-height:23px;letter-spacing:1.894px;color:#2c2c2c">3/4 yd</div>
<div class="t" id="t119" style="left:82.90px;top:1279.93px;font-size:19.11px;line-height:23px;letter-spacing:1.657px;color:#2c2c2c">Backing</div>
<div class="t" id="t120" style="left:217.70px;top:1279.93px;font-size:19.11px;line-height:23px;letter-spacing:0.826px;color:#2c2c2c">3 1/8 yds</div>
<div class="t" id="t121" style="left:375.70px;top:1279.93px;font-size:19.11px;line-height:23px;letter-spacing:0.988px;color:#2c2c2c">4 1/2 yds</div>
<div class="t" id="t122" style="left:517.80px;top:1279.93px;font-size:19.11px;line-height:23px;letter-spacing:0.826px;color:#2c2c2c">8 3/4 yds</div>
<div class="t" id="t123" style="left:74.00px;top:1316.60px;font-size:20.93px;line-height:25px;letter-spacing:0.104px;color:#1c1a1b;font-weight:bold;font-style:italic">*Leaves no room for error</div>
<div class="t" id="t124" style="left:747.40px;top:627.90px;font-size:19.48px;line-height:23px;letter-spacing:1.034px;color:#c52e94;-webkit-text-stroke:0.35px #c52e94">#ForestQuilt</div>
<div class="t" id="t125" style="left:746.40px;top:653.90px;font-size:19.48px;line-height:23px;letter-spacing:1.113px;color:#c52e94;-webkit-text-stroke:0.35px #c52e94">@xoxsew</div>
<div class="t" id="t126" style="left:658.70px;top:689.00px;font-size:18.6px;line-height:22px;letter-spacing:0.128px;color:#1c1a1b;-webkit-text-stroke:0.3px #1c1a1b">Piecing: Patchwork</div>
<div class="t" id="t127" style="left:659.70px;top:710.60px;font-size:18.6px;line-height:22px;letter-spacing:0.245px;color:#1c1a1b;-webkit-text-stroke:0.3px #1c1a1b">Skill: Confident Beginner</div>
<div class="t" id="t128" style="left:73.00px;top:1362.70px;font-size:16.86px;line-height:20px;letter-spacing:0.036px;color:#363636;-webkit-text-stroke:0.2px #363636">© 2023 XOXSEW. All Rights Reserved.</div>
<div class="t" id="t129" style="left:72.00px;top:1383.70px;font-size:16.86px;line-height:20px;letter-spacing:0.194px;color:#363636;-webkit-text-stroke:0.2px #363636">Duplication of any kind is prohibited. Items made from</div>
<div class="t" id="t130" style="left:73.00px;top:1402.50px;font-size:16.86px;line-height:20px;letter-spacing:0.172px;color:#363636;-webkit-text-stroke:0.2px #363636">this pattern may not be produced for commercial resale.</div>
<div class="t" id="t131" style="left:750.80px;top:1230.70px;font-size:19.77px;line-height:24px;letter-spacing:-0.250px;color:#1c1a1b;transform:scaleX(0.9733);transform-origin:0 0">XO116</div>
<div class="t" id="t132" style="left:662.80px;top:386.10px;font-size:20.06px;line-height:24px;letter-spacing:0.000px;color:#ffffff;-webkit-text-stroke:0.55px #ffffff">A</div>
<div class="t" id="t133" style="left:703.34px;top:385.00px;font-size:20.06px;line-height:24px;letter-spacing:0.000px;color:#141414;-webkit-text-stroke:0.55px #141414;transform:scaleX(0.8083);transform-origin:0 0">B</div>
<div class="t" id="t134" style="left:744.12px;top:361.90px;font-size:20.06px;line-height:24px;letter-spacing:0.000px;color:#ffffff;-webkit-text-stroke:0.55px #ffffff;transform:scaleX(0.9846);transform-origin:0 0">C</div>
<div class="t" id="t135" style="left:815.42px;top:361.70px;font-size:20.06px;line-height:24px;letter-spacing:0.000px;color:#141414;-webkit-text-stroke:0.55px #141414;transform:scaleX(0.9308);transform-origin:0 0">D</div>
<div class="t" id="t136" style="left:865.18px;top:362.20px;font-size:20.06px;line-height:24px;letter-spacing:0.000px;color:#ffffff;-webkit-text-stroke:0.55px #ffffff;transform:scaleX(0.7750);transform-origin:0 0">E</div>
<div class="t" id="t137" style="left:772.73px;top:424.60px;font-size:20.06px;line-height:24px;letter-spacing:0.000px;color:#141414;-webkit-text-stroke:0.55px #141414;transform:scaleX(0.6727);transform-origin:0 0">F</div>
<div class="t" id="t138" style="left:815.26px;top:424.60px;font-size:20.06px;line-height:24px;letter-spacing:0.000px;color:#141414;-webkit-text-stroke:0.55px #141414;transform:scaleX(1.0429);transform-origin:0 0">G</div>
<div class="t" id="t139" style="left:866.94px;top:424.60px;font-size:20.06px;line-height:24px;letter-spacing:0.000px;color:#ffffff;-webkit-text-stroke:0.55px #ffffff;transform:scaleX(1.0083);transform-origin:0 0">H</div>
<div class="t" id="t140" style="left:750.12px;top:281.60px;font-size:20.06px;line-height:24px;letter-spacing:0.000px;color:#141414;-webkit-text-stroke:0.55px #141414;transform:scaleX(0.7846);transform-origin:0 0">K</div>
<div class="t" id="t141" style="left:711.15px;top:320.70px;font-size:20.06px;line-height:24px;letter-spacing:0.000px;color:#141414;-webkit-text-stroke:0.55px #141414;transform:scaleX(0.7889);transform-origin:0 0">J</div>
<div class="t" id="t142" style="left:656.00px;top:967.70px;font-size:20.06px;line-height:24px;letter-spacing:0.000px;color:#ffffff;-webkit-text-stroke:0.55px #ffffff">A</div>
<div class="t" id="t143" style="left:705.64px;top:966.40px;font-size:20.06px;line-height:24px;letter-spacing:0.000px;color:#141414;-webkit-text-stroke:0.55px #141414;transform:scaleX(0.8083);transform-origin:0 0">B</div>
<div class="t" id="t144" style="left:746.42px;top:943.50px;font-size:20.06px;line-height:24px;letter-spacing:0.000px;color:#ffffff;-webkit-text-stroke:0.55px #ffffff;transform:scaleX(0.9846);transform-origin:0 0">C</div>
<div class="t" id="t145" style="left:817.62px;top:943.50px;font-size:20.06px;line-height:24px;letter-spacing:0.000px;color:#141414;-webkit-text-stroke:0.55px #141414;transform:scaleX(0.9308);transform-origin:0 0">D</div>
<div class="t" id="t146" style="left:866.68px;top:943.90px;font-size:20.06px;line-height:24px;letter-spacing:0.000px;color:#ffffff;-webkit-text-stroke:0.55px #ffffff;transform:scaleX(0.7750);transform-origin:0 0">E</div>
<div class="t" id="t147" style="left:775.63px;top:1006.50px;font-size:20.06px;line-height:24px;letter-spacing:0.000px;color:#141414;-webkit-text-stroke:0.55px #141414;transform:scaleX(0.6727);transform-origin:0 0">F</div>
<div class="t" id="t148" style="left:818.16px;top:1006.50px;font-size:20.06px;line-height:24px;letter-spacing:0.000px;color:#141414;-webkit-text-stroke:0.55px #141414;transform:scaleX(1.0429);transform-origin:0 0">G</div>
<div class="t" id="t149" style="left:885.94px;top:1006.50px;font-size:20.06px;line-height:24px;letter-spacing:0.000px;color:#ffffff;-webkit-text-stroke:0.55px #ffffff;transform:scaleX(1.0083);transform-origin:0 0">H</div>
<div class="t" id="t150" style="left:753.12px;top:863.70px;font-size:20.06px;line-height:24px;letter-spacing:0.000px;color:#141414;-webkit-text-stroke:0.55px #141414;transform:scaleX(0.7846);transform-origin:0 0">K</div>
<div class="t" id="t151" style="left:714.45px;top:902.10px;font-size:20.06px;line-height:24px;letter-spacing:0.000px;color:#141414;-webkit-text-stroke:0.55px #141414;transform:scaleX(0.7889);transform-origin:0 0">J</div>
<div class="t" id="t152" style="left:674.70px;top:1401.00px;font-size:15.84px;line-height:19px;letter-spacing:0.000px;color:#1c1a1b;transform:scaleX(0.8625);transform-origin:0 0">7</div>
<div class="t" id="t153" style="left:721.50px;top:1401.00px;font-size:15.84px;line-height:19px;letter-spacing:1.122px;color:#1c1a1b">92264</div>
<div class="t" id="t154" style="left:797.70px;top:1401.00px;font-size:15.84px;line-height:19px;letter-spacing:1.122px;color:#1c1a1b">99289</div>
<div class="t" id="t155" style="left:882.90px;top:1401.00px;font-size:15.84px;line-height:19px;letter-spacing:0.000px;color:#1c1a1b;transform:scaleX(0.9444);transform-origin:0 0">3</div>
</div></body></html>
